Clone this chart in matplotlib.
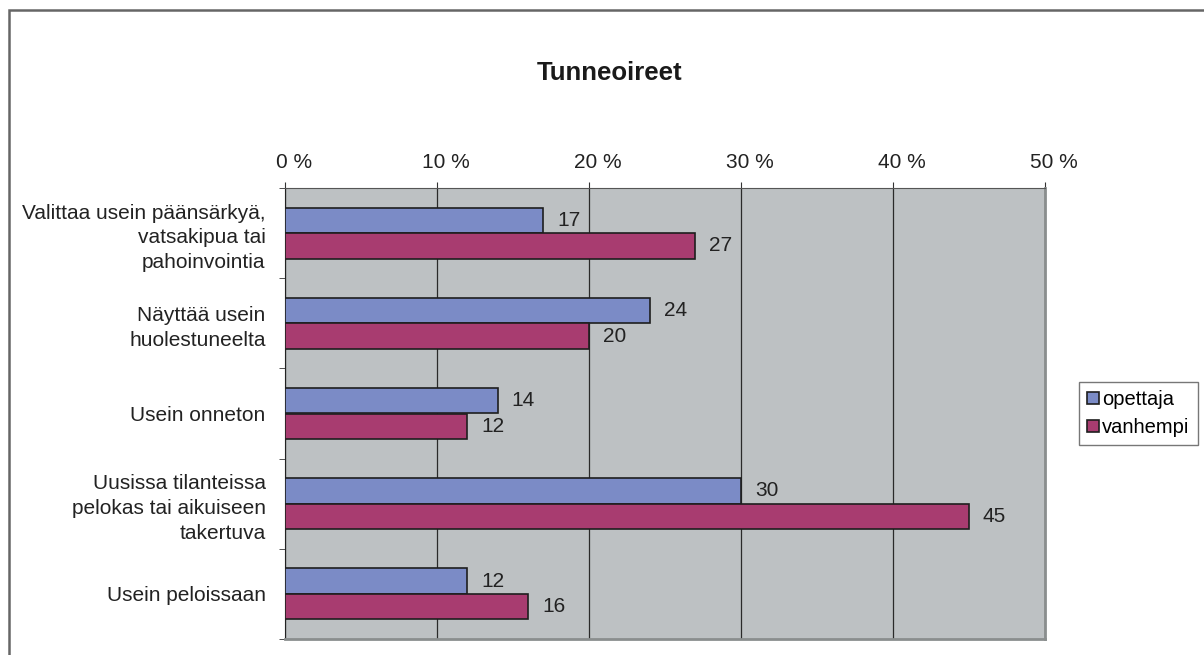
import matplotlib
matplotlib.use('Agg')
import matplotlib.pyplot as plt
import matplotlib.transforms as mtransforms
from matplotlib.patches import Rectangle
import numpy as np

plt.rcParams['font.family'] = ['Liberation Sans', 'DejaVu Sans']

# data
categories = ['Valittaa usein päänsärkyä,\nvatsakipua tai\npahoinvointia',
              'Näyttää usein\nhuolestuneelta',
              'Usein onneton',
              'Uusissa tilanteissa\npelokas tai aikuiseen\ntakertuva',
              'Usein peloissaan']
opettaja = [17, 24, 14, 30, 12]
vanhempi = [27, 20, 12, 45, 16]
series_names = ['opettaja', 'vanhempi']
xticks = [0, 10, 20, 30, 40, 50]
xtick_labels = ['0 %', '10 %', '20 %', '30 %', '40 %', '50 %']

W, H = 1204, 655
fig = plt.figure(figsize=(W / 100, H / 100), dpi=100)
ax = fig.add_axes([285 / W, 1 - 639 / H, (1045 - 285) / W, (639 - 188) / H])

ax.set_facecolor('#bdc1c3')
y = np.arange(len(categories))
h = 0.283
b1 = ax.barh(y - h / 2, opettaja, height=h, color='#7b8bc6', edgecolor='#1e1e1e', linewidth=1.2, label=series_names[0], zorder=3)
b2 = ax.barh(y + h / 2, vanhempi, height=h, color='#a83c70', edgecolor='#1e1e1e', linewidth=1.2, label=series_names[1], zorder=3)

for bars, vals in [(b1, opettaja), (b2, vanhempi)]:
    for bar, v in zip(bars, vals):
        ax.annotate(str(v), (bar.get_width(), bar.get_y() + bar.get_height() / 2),
                    xytext=(10, 0), textcoords='offset points', va='center', ha='left',
                    fontsize=15, color='#222222')

ax.set_xlim(0, 50)
ax.set_ylim(len(categories) - 0.5, -0.5)
ax.xaxis.tick_top()
ax.set_xticks(xticks)
ax.set_xticklabels(xtick_labels, fontsize=15, color='#222222')
ax.tick_params(axis='x', direction='out', length=4.3, pad=7, color='#333333')
# excel puts the percent labels a bit to the right of their ticks
shift = mtransforms.ScaledTranslation(0.09, 0, fig.dpi_scale_trans)
for lab in ax.get_xticklabels():
    lab.set_transform(lab.get_transform() + shift)
ax.grid(axis='x', color='#2a2a2a', linewidth=0.9, zorder=1)

ax.set_yticks(y)
ax.set_yticklabels(categories, fontsize=15, color='#222222', linespacing=1.38)
ax.tick_params(axis='y', length=0, pad=14)
ax.set_yticks(np.arange(len(categories) + 1) - 0.5, minor=True)
ax.tick_params(axis='y', which='minor', direction='out', length=4.3, color='#333333')

ax.spines['left'].set_color('#222222')
ax.spines['top'].set_color('#555555')
for s in ['right', 'bottom']:
    ax.spines[s].set_color('#8a8e8e')
    ax.spines[s].set_linewidth(2)

fig.text(610 / W, 1 - 73 / H, 'Tunneoireet', fontsize=18.5, fontweight='bold',
         ha='center', va='center', color='#1a1a1a')

leg = fig.legend(handles=[b1, b2], loc='upper left', bbox_to_anchor=(1079 / W, 1 - 382 / H),
                 fontsize=14.5, frameon=True, fancybox=False, shadow=False,
                 handlelength=0.6, handleheight=0.6, handletextpad=0.15,
                 borderpad=0.4, labelspacing=0.45, borderaxespad=0)
leg.get_frame().set_edgecolor('#555555')
leg.get_frame().set_linewidth(1)

fig.add_artist(Rectangle((9 / W, -0.1), 1.2, 1 - 10 / H + 0.1, transform=fig.transFigure,
                         fill=False, edgecolor='#666666', linewidth=1.8))

fig.savefig('out.png', dpi=100)
